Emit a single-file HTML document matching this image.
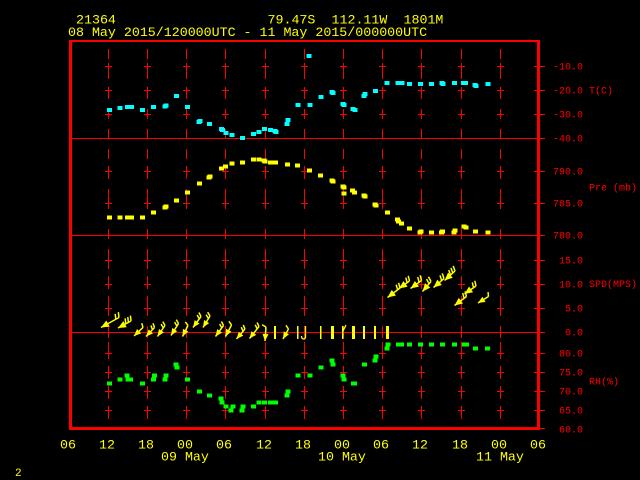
<!DOCTYPE html>
<html><head><meta charset="utf-8"><style>
html,body{margin:0;padding:0;background:#000;}
svg{display:block;}
text{font-family:"Liberation Mono",monospace;}
</style></head><body>
<svg width="640" height="480" viewBox="0 0 640 480" xmlns="http://www.w3.org/2000/svg">
<rect width="640" height="480" fill="#000"/>
<defs>
<g id="gl" stroke="#f00" stroke-width="1" fill="none" shape-rendering="crispEdges">
<path d="M0.5 49V59M0.5 63V79M0.5 87V99M0.5 109V119M0.5 129V139M0.5 149V159M0.5 166V179M0.5 189V209M0.5 229V239M0.5 249V269M0.5 276V289M0.5 296V316M0.5 326V338M0.5 342V359M0.5 366V379M0.5 386V399M0.5 406V419"/>
<path d="M-3 66.5H4M-3 90.5H4M-3 114.5H4M-3 171.5H4M-3 203.5H4M-3 260.5H4M-3 284.5H4M-3 308.5H4M-3 353.5H4M-3 372.5H4M-3 391.5H4M-3 410.5H4"/>
</g>
</defs>
<use href="#gl" x="108"/><use href="#gl" x="147"/><use href="#gl" x="186"/><use href="#gl" x="225"/>
<use href="#gl" x="265"/><use href="#gl" x="304"/><use href="#gl" x="343"/><use href="#gl" x="382"/>
<use href="#gl" x="421"/><use href="#gl" x="461"/><use href="#gl" x="500"/>
<g stroke="#f00" stroke-width="1" shape-rendering="crispEdges">
<path d="M72 138.5H545M72 235.5H545M72 332.5H545M537 428.5H545"/>
<path d="M534 66.5H545M534 90.5H545M534 114.5H545M534 171.5H545M534 203.5H545M534 260.5H545M534 284.5H545M534 308.5H545M534 353.5H545M534 372.5H545M534 391.5H545M534 410.5H545"/>
</g>
<g fill="#f00" shape-rendering="crispEdges">
<rect x="69" y="40" width="471" height="2"/>
<rect x="69" y="40" width="3" height="390"/>
<rect x="537" y="40" width="3" height="390"/>
<rect x="69" y="427" width="471" height="3"/>
</g>
<g fill="#0ff" shape-rendering="crispEdges">
<rect x="106.8" y="108" width="5" height="4"/><rect x="117.5" y="106" width="5" height="4"/>
<rect x="125.2" y="105" width="5" height="4"/><rect x="128.8" y="105" width="5" height="4"/>
<rect x="139.8" y="108" width="5" height="4"/><rect x="150.8" y="105" width="5" height="4"/>
<rect x="162.5" y="104.7" width="5" height="4"/><rect x="163.5" y="103.7" width="5" height="4"/>
<rect x="173.8" y="94" width="5" height="4"/><rect x="185.2" y="105" width="5" height="4"/>
<rect x="196.5" y="120" width="5" height="4"/><rect x="197.5" y="119" width="5" height="4"/>
<rect x="206.8" y="122" width="5" height="4"/><rect x="218.8" y="127" width="5" height="4"/>
<rect x="219.8" y="128" width="5" height="4"/><rect x="223.5" y="131" width="5" height="4"/>
<rect x="229.5" y="133" width="5" height="4"/><rect x="239.8" y="136" width="5" height="4"/>
<rect x="250.8" y="132" width="5" height="4"/><rect x="256.5" y="130" width="5" height="4"/>
<rect x="261.8" y="127" width="5" height="4"/><rect x="267.8" y="128" width="5" height="4"/>
<rect x="272.5" y="129" width="5" height="4"/><rect x="273.5" y="130" width="5" height="4"/>
<rect x="284.5" y="122" width="5" height="4"/><rect x="285.5" y="118" width="5" height="4"/>
<rect x="295.5" y="103" width="5" height="4"/><rect x="306.5" y="54" width="5" height="4"/>
<rect x="307.5" y="103" width="5" height="4"/><rect x="318.5" y="95" width="5" height="4"/>
<rect x="329.5" y="90" width="5" height="4"/><rect x="330.5" y="91" width="5" height="4"/>
<rect x="340.5" y="102" width="5" height="4"/><rect x="341.5" y="103" width="5" height="4"/>
<rect x="350.5" y="107" width="5" height="4"/><rect x="352.5" y="108" width="5" height="4"/>
<rect x="361.5" y="94" width="5" height="4"/><rect x="362.5" y="92" width="5" height="4"/>
<rect x="372.8" y="89" width="5" height="4"/><rect x="384.5" y="81" width="5" height="4"/>
<rect x="395.5" y="81" width="5" height="4"/><rect x="399.5" y="81" width="5" height="4"/>
<rect x="406.8" y="82" width="5" height="4"/><rect x="417.8" y="82" width="5" height="4"/>
<rect x="428.8" y="82" width="5" height="4"/><rect x="439.5" y="81" width="5" height="4"/>
<rect x="440.5" y="82" width="5" height="4"/><rect x="451.8" y="81" width="5" height="4"/>
<rect x="461.2" y="81" width="5" height="4"/><rect x="463.2" y="81" width="5" height="4"/>
<rect x="472.5" y="83" width="5" height="4"/><rect x="473.5" y="84" width="5" height="4"/>
<rect x="485.5" y="82" width="5" height="4"/>
</g>
<g fill="#ff0" shape-rendering="crispEdges">
<rect x="106.8" y="215.7" width="5" height="4"/><rect x="117.5" y="215.7" width="5" height="4"/>
<rect x="125.2" y="215.7" width="5" height="4"/><rect x="128.8" y="215.7" width="5" height="4"/>
<rect x="139.8" y="215.7" width="5" height="4"/><rect x="150.8" y="210.7" width="5" height="4"/>
<rect x="162.5" y="205.7" width="5" height="4"/><rect x="163.5" y="204.7" width="5" height="4"/>
<rect x="173.8" y="198.7" width="5" height="4"/><rect x="185.2" y="190.7" width="5" height="4"/>
<rect x="196.8" y="181.7" width="5" height="4"/><rect x="206.5" y="175.7" width="5" height="4"/>
<rect x="207.5" y="174.7" width="5" height="4"/><rect x="218.8" y="166.7" width="5" height="4"/>
<rect x="223.2" y="164.7" width="5" height="4"/><rect x="229.5" y="161.7" width="5" height="4"/>
<rect x="239.8" y="160.7" width="5" height="4"/><rect x="250.8" y="157.7" width="5" height="4"/>
<rect x="256.5" y="157.7" width="5" height="4"/><rect x="261.5" y="158.7" width="5" height="4"/>
<rect x="262.5" y="159.7" width="5" height="4"/><rect x="267.8" y="160.7" width="5" height="4"/>
<rect x="272.8" y="160.7" width="5" height="4"/><rect x="284.8" y="162.7" width="5" height="4"/>
<rect x="295.2" y="163.7" width="5" height="4"/><rect x="306.8" y="168.7" width="5" height="4"/>
<rect x="318.2" y="173.7" width="5" height="4"/><rect x="329.5" y="178.7" width="5" height="4"/>
<rect x="330.5" y="179.7" width="5" height="4"/><rect x="340.5" y="184.7" width="5" height="4"/>
<rect x="341.5" y="185.7" width="5" height="4"/><rect x="341.5" y="191.7" width="5" height="4"/>
<rect x="350.2" y="188.7" width="5" height="4"/><rect x="352.2" y="190.7" width="5" height="4"/>
<rect x="361.5" y="193.7" width="5" height="4"/><rect x="362.5" y="194.7" width="5" height="4"/>
<rect x="372.5" y="202.7" width="5" height="4"/><rect x="373.5" y="203.7" width="5" height="4"/>
<rect x="384.8" y="210.7" width="5" height="4"/><rect x="395.2" y="217.7" width="5" height="4"/>
<rect x="396.2" y="219.7" width="5" height="4"/><rect x="399.2" y="221.7" width="5" height="4"/>
<rect x="406.8" y="226.7" width="5" height="4"/><rect x="417.5" y="230.7" width="5" height="4"/>
<rect x="418.5" y="229.7" width="5" height="4"/><rect x="428.8" y="230.7" width="5" height="4"/>
<rect x="439.2" y="230.7" width="5" height="4"/><rect x="440.2" y="229.7" width="5" height="4"/>
<rect x="451.5" y="230.7" width="5" height="4"/><rect x="452.5" y="228.7" width="5" height="4"/>
<rect x="461.5" y="224.7" width="5" height="4"/><rect x="463.5" y="225.7" width="5" height="4"/>
<rect x="472.8" y="229.7" width="5" height="4"/><rect x="485.5" y="230.7" width="5" height="4"/>
</g>
<g fill="#0f0" shape-rendering="crispEdges">
<rect x="106.8" y="381.7" width="5" height="4"/><rect x="117.5" y="377.7" width="5" height="4"/>
<rect x="124.5" y="373.7" width="5" height="4"/><rect x="125.5" y="377.7" width="5" height="4"/>
<rect x="128.2" y="377.7" width="5" height="4"/><rect x="139.8" y="381.7" width="5" height="4"/>
<rect x="150.8" y="377.7" width="5" height="4"/><rect x="151.8" y="373.7" width="5" height="4"/>
<rect x="162.5" y="377.7" width="5" height="4"/><rect x="163.5" y="373.7" width="5" height="4"/>
<rect x="173.5" y="362.7" width="5" height="4"/><rect x="174.5" y="365.7" width="5" height="4"/>
<rect x="185.2" y="377.7" width="5" height="4"/><rect x="196.8" y="389.7" width="5" height="4"/>
<rect x="206.8" y="393.7" width="5" height="4"/><rect x="218.5" y="396.7" width="5" height="4"/>
<rect x="219.5" y="400.7" width="5" height="4"/><rect x="223.5" y="404.7" width="5" height="4"/>
<rect x="228.5" y="408.7" width="5" height="4"/><rect x="230.5" y="404.7" width="5" height="4"/>
<rect x="239.5" y="408.7" width="5" height="4"/><rect x="240.5" y="404.7" width="5" height="4"/>
<rect x="250.8" y="404.7" width="5" height="4"/><rect x="256.5" y="400.7" width="5" height="4"/>
<rect x="261.8" y="400.7" width="5" height="4"/><rect x="267.8" y="400.7" width="5" height="4"/>
<rect x="272.8" y="400.7" width="5" height="4"/><rect x="284.5" y="393.7" width="5" height="4"/>
<rect x="285.5" y="389.7" width="5" height="4"/><rect x="295.5" y="373.7" width="5" height="4"/>
<rect x="307.5" y="373.7" width="5" height="4"/><rect x="318.5" y="365.7" width="5" height="4"/>
<rect x="329.5" y="358.7" width="5" height="4"/><rect x="330.5" y="362.7" width="5" height="4"/>
<rect x="340.5" y="373.7" width="5" height="4"/><rect x="341.5" y="377.7" width="5" height="4"/>
<rect x="351" y="381.7" width="6" height="4"/><rect x="361.8" y="362.7" width="5" height="4"/>
<rect x="372.5" y="358.7" width="5" height="4"/><rect x="373.5" y="354.7" width="5" height="4"/>
<rect x="384.5" y="346.7" width="5" height="4"/><rect x="385.5" y="342.7" width="5" height="4"/>
<rect x="396.2" y="342.7" width="5" height="4"/><rect x="399.2" y="342.7" width="5" height="4"/>
<rect x="406.8" y="342.7" width="5" height="4"/><rect x="417.8" y="342.7" width="5" height="4"/>
<rect x="428.8" y="342.7" width="5" height="4"/><rect x="439.8" y="342.7" width="5" height="4"/>
<rect x="451.8" y="342.7" width="5" height="4"/><rect x="461.8" y="342.7" width="7" height="4"/>
<rect x="472.8" y="346.7" width="5" height="4"/><rect x="485.2" y="346.7" width="5" height="4"/>
</g>
<g fill="#ff0" stroke="#ff0" stroke-width="1.5">
<g transform="translate(101,327.5) rotate(-29.1)"><polygon points="0,0 8,-3.5 8,3.5" stroke="none"/><path fill="none" d="M0 0H20.6M20.6 0l2,-5M17 0l2,-5"/></g>
<g transform="translate(118,328) rotate(-28.3)"><polygon points="0,0 8,-3.5 8,3.5" stroke="none"/><path fill="none" d="M0 0H14.8M14.8 0l2,-5M11.8 0l2,-5M8.8 0l2,-5"/></g>
<g transform="translate(134,336) rotate(-43.4)"><polygon points="0,0 7,-3 7,3" stroke="none"/><path fill="none" d="M0 0H12.4M12.4 0l2,-4"/></g>
<g transform="translate(146,336.5) rotate(-46.6)"><polygon points="0,0 7,-3 7,3" stroke="none"/><path fill="none" d="M0 0H12.4M12.4 0l2,-4M9.4 0l2,-4"/></g>
<g transform="translate(157.5,336.5) rotate(-55.7)"><polygon points="0,0 7,-3 7,3" stroke="none"/><path fill="none" d="M0 0H13.3M13.3 0l2,-4M10.3 0l2,-4"/></g>
<g transform="translate(171,335.5) rotate(-58)"><polygon points="0,0 7,-3 7,3" stroke="none"/><path fill="none" d="M0 0H14.2M14.2 0l2,-4M11.2 0l2,-4"/></g>
<g transform="translate(182.5,336.5) rotate(-63.4)"><polygon points="0,0 7,-3 7,3" stroke="none"/><path fill="none" d="M0 0H12.3M12.3 0l2,-4"/></g>
<g transform="translate(193,327.5) rotate(-54)"><polygon points="0,0 7,-3 7,3" stroke="none"/><path fill="none" d="M0 0H13.6M13.6 0l2,-4M10.6 0l2,-4"/></g>
<g transform="translate(203,327.5) rotate(-58.7)"><polygon points="0,0 7,-3 7,3" stroke="none"/><path fill="none" d="M0 0H13.5M13.5 0l2,-4M10.5 0l2,-4"/></g>
<g transform="translate(215.5,336.5) rotate(-54)"><polygon points="0,0 7,-3 7,3" stroke="none"/><path fill="none" d="M0 0H13.6M13.6 0l2,-4M10.6 0l2,-4"/></g>
<g transform="translate(225.5,336.5) rotate(-62.4)"><polygon points="0,0 7,-3 7,3" stroke="none"/><path fill="none" d="M0 0H13M13 0l2,-4"/></g>
<g transform="translate(236.5,339) rotate(-49.6)"><polygon points="0,0 7,-3 7,3" stroke="none"/><path fill="none" d="M0 0H13.1M13.1 0l2,-4M10.1 0l2,-4"/></g>
<g transform="translate(249.5,338.5) rotate(-51.6)"><polygon points="0,0 7,-3 7,3" stroke="none"/><path fill="none" d="M0 0H15.3M15.3 0l2,-4M12.3 0l2,-4"/></g>
<g transform="translate(265,341) rotate(-86)"><polygon points="0,0 7,-3 7,3" stroke="none"/><path fill="none" d="M0 0H14M14 0l2,-4"/></g>
<g transform="translate(283,339) rotate(-61.2)"><polygon points="0,0 7,-3 7,3" stroke="none"/><path fill="none" d="M0 0H11.4M11.4 0l2,-4"/></g>
<g transform="translate(387.5,297.5) rotate(-37.2)"><polygon points="0,0 8,-3.5 8,3.5" stroke="none"/><path fill="none" d="M0 0H15.7M15.7 0l2,-5M12.7 0l2,-5"/></g>
<g transform="translate(399,288.5) rotate(-35.5)"><polygon points="0,0 8,-3.5 8,3.5" stroke="none"/><path fill="none" d="M0 0H12.9M12.9 0l2,-5M9.9 0l2,-5"/></g>
<g transform="translate(410.5,288.5) rotate(-36)"><polygon points="0,0 8,-3.5 8,3.5" stroke="none"/><path fill="none" d="M0 0H13.6M13.6 0l2,-5M10.6 0l2,-5"/></g>
<g transform="translate(422.5,291.5) rotate(-49.6)"><polygon points="0,0 8,-3.5 8,3.5" stroke="none"/><path fill="none" d="M0 0H13.1M13.1 0l2,-5M10.1 0l2,-5"/></g>
<g transform="translate(433.5,287.5) rotate(-40.6)"><polygon points="0,0 8,-3.5 8,3.5" stroke="none"/><path fill="none" d="M0 0H13.8M13.8 0l2,-5M10.8 0l2,-5"/></g>
<g transform="translate(444.5,280.5) rotate(-42.1)"><polygon points="0,0 8,-3.5 8,3.5" stroke="none"/><path fill="none" d="M0 0H14.2M14.2 0l2,-5M11.2 0l2,-5M8.2 0l2,-5"/></g>
<g transform="translate(454.5,305.5) rotate(-36.9)"><polygon points="0,0 8,-3.5 8,3.5" stroke="none"/><path fill="none" d="M0 0H15M15 0l2,-5M12 0l2,-5"/></g>
<g transform="translate(464.5,294) rotate(-34.8)"><polygon points="0,0 8,-3.5 8,3.5" stroke="none"/><path fill="none" d="M0 0H14M14 0l2,-5M11 0l2,-5"/></g>
<g transform="translate(478,303) rotate(-31.8)"><polygon points="0,0 7,-3 7,3" stroke="none"/><path fill="none" d="M0 0H12.3M12.3 0l2,-4"/></g>
</g>
<g fill="#ff0" shape-rendering="crispEdges">
<rect x="274" y="326" width="2" height="13"/>
<rect x="297" y="326" width="1.5" height="13"/>
<rect x="320" y="326" width="1.5" height="13"/>
<rect x="331" y="326" width="3" height="13"/>
<rect x="342" y="326" width="1.5" height="13"/>
<rect x="352" y="326" width="3" height="13"/>
<rect x="363" y="326" width="2" height="13"/>
<rect x="374" y="326" width="2" height="13"/>
<rect x="386" y="326" width="3" height="13"/>
</g>
<path d="M305.5 326V337q0 2 -2 2q-2 0 -2 -3M343 331l3,-6" stroke="#ff0" stroke-width="1.3" fill="none"/>
<g fill="#ff0" font-size="13.3">
<text x="76" y="23.3">21364</text>
<text x="267.5" y="23.3">79.47S</text>
<text x="331.5" y="23.3">112.11W</text>
<text x="403.5" y="23.3">1801M</text>
<text x="68" y="36">08 May 2015/120000UTC - 11 May 2015/000000UTC</text>
</g>
<g fill="#ff0" font-size="13.3" text-anchor="middle">
<text x="68" y="448.3">06</text><text x="107" y="448.3">12</text><text x="146" y="448.3">18</text>
<text x="185" y="448.3">00</text><text x="224" y="448.3">06</text><text x="264" y="448.3">12</text>
<text x="303" y="448.3">18</text><text x="342" y="448.3">00</text><text x="381" y="448.3">06</text>
<text x="420" y="448.3">12</text><text x="460" y="448.3">18</text><text x="499" y="448.3">00</text>
<text x="538" y="448.3">06</text>
</g>
<g fill="#ff0" font-size="13.3">
<text x="161" y="460.7">09 May</text>
<text x="318" y="460.7">10 May</text>
<text x="476" y="460.7">11 May</text>
<text x="15" y="476" font-size="11">2</text>
</g>
<g fill="#f00" font-size="10" text-anchor="end">
<text x="583" y="69.7">-10.0</text><text x="583" y="93.7">-20.0</text><text x="583" y="117.7">-30.0</text><text x="583" y="141.7">-40.0</text>
<text x="583" y="174.7">790.0</text><text x="583" y="206.7">785.0</text><text x="583" y="238.7">780.0</text>
<text x="583" y="263.7">15.0</text><text x="583" y="287.7">10.0</text><text x="583" y="311.7">5.0</text><text x="583" y="335.7">0.0</text>
<text x="583" y="356.7">80.0</text><text x="583" y="375.7">75.0</text><text x="583" y="394.7">70.0</text><text x="583" y="413.7">65.0</text><text x="583" y="432.7">60.0</text>
</g>
<g fill="#f00" font-size="10">
<text x="589" y="93.7">T(C)</text>
<text x="589" y="190.5">Pre (mb)</text>
<text x="589" y="287">SPD(MPS)</text>
<text x="589" y="384.5">RH(%)</text>
</g>
</svg>
</body></html>
